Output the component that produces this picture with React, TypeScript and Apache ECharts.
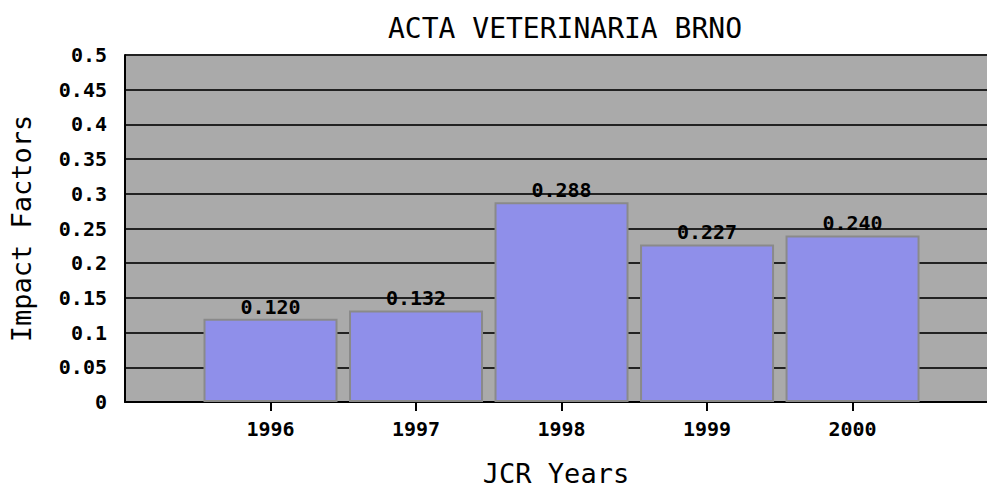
import React, { useEffect, useRef } from "react";
import * as echarts from "echarts";

const years = [1996, 1997, 1998, 1999, 2000];
const impactFactors = [0.12, 0.132, 0.288, 0.227, 0.24];
const titleText = "ACTA VETERINARIA BRNO";
const xName = "JCR Years";
const yName = "Impact Factors";

const MONO = "'DejaVu Sans Mono', 'Liberation Mono', monospace";

export default function App() {
  const ref = useRef<HTMLDivElement>(null);
  useEffect(() => {
    if (!ref.current) return;
    const chart = echarts.init(ref.current, null, { renderer: "svg" });
    chart.setOption({
      animation: false,
      backgroundColor: "#ffffff",
      title: {
        text: titleText,
        left: 560,
        top: 9,
        textAlign: "center",
        textStyle: { fontFamily: MONO, fontSize: 28, fontWeight: "normal", color: "#000" },
      },
      grid: { left: 125, right: 0, top: 55, bottom: 84, containLabel: false },
      xAxis: {
        type: "value",
        min: 1995,
        max: 2000.924,
        interval: 1,
        name: xName,
        nameLocation: "middle",
        nameGap: 58,
        nameTextStyle: { fontFamily: MONO, fontSize: 27, color: "#000" },
        axisLine: { show: true, lineStyle: { color: "#000", width: 2 } },
        axisTick: { show: true, length: 9, lineStyle: { color: "#000", width: 2 }, customValues: years },
        axisLabel: {
          customValues: years,
          margin: 17,
          fontFamily: MONO,
          fontWeight: "bold",
          fontSize: 20,
          color: "#000",
          formatter: (v: number) => String(v),
        },
        splitLine: { show: false },
      },
      yAxis: {
        type: "value",
        min: 0,
        max: 0.5,
        interval: 0.05,
        name: yName,
        nameLocation: "middle",
        nameGap: 90,
        nameTextStyle: { fontFamily: MONO, fontSize: 27, color: "#000" },
        axisLine: { show: true, lineStyle: { color: "#000", width: 2 } },
        axisTick: { show: false },
        axisLabel: {
          margin: 18,
          fontFamily: MONO,
          fontWeight: "bold",
          fontSize: 20,
          color: "#000",
        },
        splitLine: { show: true, lineStyle: { color: "#222", width: 2 } },
        splitArea: { show: true, areaStyle: { color: ["#aaaaaa", "#aaaaaa"] } },
      },
      series: [
        {
          type: "bar",
          data: years.map((y, i) => [y, impactFactors[i]]),
          barWidth: 134,
          itemStyle: { color: "#8f8fea", borderColor: "#8a8a8a", borderWidth: 2 },
          label: {
            show: true,
            position: "top",
            distance: 2,
            fontFamily: MONO,
            fontWeight: "bold",
            fontSize: 20,
            color: "#000",
            formatter: (p: any) => (p.value[1] as number).toFixed(3),
          },
        },
      ],
    });
    return () => chart.dispose();
  }, []);
  return <div ref={ref} style={{ width: 987, height: 492, position: "fixed", left: 0, top: 0 }} />;
}
